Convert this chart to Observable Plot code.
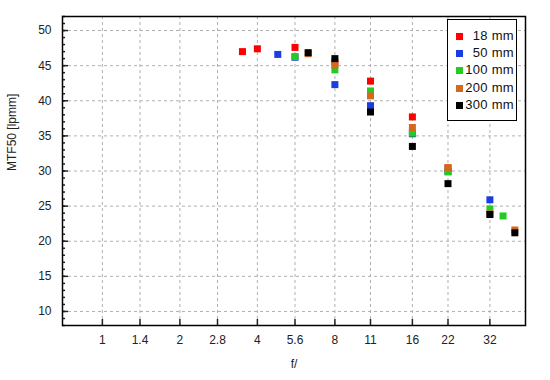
<!DOCTYPE html>
<html>
<head>
<meta charset="utf-8">
<script src="https://cdn.jsdelivr.net/npm/d3@7"></script>
<script src="https://cdn.jsdelivr.net/npm/@observablehq/plot@0.6"></script>
<style>
  body { margin: 0; background: #fff; }
  #wrap { position: relative; width: 550px; height: 380px; font-family: "Liberation Sans", Arial, sans-serif; }
  #legend { position: absolute; left: 447px; top: 19px; width: 70px; height: 102px; border: 1px solid #000; background: #fff; box-sizing: border-box; font-size: 13px; color: #111; }
  .item { position: absolute; left: 0; width: 66px; height: 16px; line-height: 16px; }
  .sw { position: absolute; left: 8px; top: 5px; width: 7px; height: 7px; }
  .lab { position: absolute; right: 0; top: 0; text-align: right; letter-spacing: 0.3px; }
</style>
</head>
<body>
<div id="wrap"><div id="legend"></div></div>
<script>
const seriesNames = ["18 mm", "50 mm", "100 mm", "200 mm", "300 mm"];
const seriesColors = ["#ff0000", "#1a3de0", "#22cc22", "#d2691e", "#000000"];

const f18 = [3.5, 4, 5.6, 8, 11, 16, 22];
const v18 = [47.0, 47.4, 47.6, 45.5, 42.8, 37.7, 30.4];
const f50 = [4.8, 5.6, 8, 11, 16, 22, 32];
const v50 = [46.6, 46.2, 42.3, 39.3, 35.3, 29.9, 25.9];
const f100 = [5.6, 8, 11, 16, 22, 32, 36];
const v100 = [46.3, 44.4, 41.4, 35.4, 29.9, 24.6, 23.6];
const f200 = [6.3, 8, 11, 16, 22, 32, 40];
const v200 = [46.7, 45.1, 40.7, 36.2, 30.5, 23.9, 21.6];
const f300 = [6.3, 8, 11, 16, 22, 32, 40];
const v300 = [46.85, 46.0, 38.4, 33.5, 28.2, 23.8, 21.2];

const xTicks = [1, 1.4, 2, 2.8, 4, 5.6, 8, 11, 16, 22, 32];
const xTickLabels = ["1", "1.4", "2", "2.8", "4", "5.6", "8", "11", "16", "22", "32"];
const yMajor = [10, 15, 20, 25, 30, 35, 40, 45, 50];
const yMinor = d3.range(8, 53, 1);

const fs = [f18, f50, f100, f200, f300];
const vs = [v18, v50, v100, v200, v300];
const data = [];
seriesNames.forEach((s, i) => fs[i].forEach((f, j) => data.push({series: s, f, v: vs[i][j]})));

const xTickData = xTicks.map((t, i) => ({t, label: xTickLabels[i]}));
const gridStyle = {stroke: "#b0b0b0", strokeOpacity: 1, strokeDasharray: "3,3", strokeWidth: 1};

const chart = Plot.plot({
  width: 550,
  height: 380,
  marginLeft: 62,
  marginRight: 25,
  marginTop: 16,
  marginBottom: 55,
  style: {fontFamily: "'Liberation Sans', Arial, sans-serif", fontSize: "12px", color: "#222", background: "#fff"},
  x: {type: "log", domain: [0.7, 44]},
  y: {domain: [8, 52]},
  color: {domain: seriesNames, range: seriesColors},
  marks: [
    Plot.gridX(xTicks, gridStyle),
    Plot.gridY(yMajor, gridStyle),
    Plot.axisX(xTicks, {tickSize: -6, tickFormat: () => "", label: null, strokeWidth: 1.5}),
    Plot.text(xTickData, {x: "t", text: "label", frameAnchor: "bottom", dy: 18, fontSize: 12, fill: "#222"}),
    Plot.axisY(yMajor, {tickSize: -6, tickFormat: () => "", label: null, strokeWidth: 1.5}),
    Plot.axisY(yMinor, {tickSize: -3, tickFormat: () => "", label: null, strokeWidth: 1.5}),
    Plot.axisY(yMajor, {tickSize: 0, tickPadding: 11, label: null, fontSize: 12}),
    Plot.dot(data, {x: "f", y: "v", fill: "series", symbol: "square", r: 3.95}),
    Plot.frame({stroke: "#000", strokeWidth: 1.5}),
    Plot.text(["f/"], {frameAnchor: "bottom", dy: 42, fontSize: 12, fill: "#222"}),
    Plot.text(["MTF50 [lpmm]"], {frameAnchor: "left", dx: -50, rotate: -90, fontSize: 12, fill: "#222"})
  ]
});
document.getElementById("wrap").prepend(chart);
chart.style.position = "absolute";
chart.style.left = "0";
chart.style.top = "0";

const legend = document.getElementById("legend");
legend.style.zIndex = 2;
seriesNames.forEach((s, i) => {
  const it = document.createElement("div");
  it.className = "item";
  it.style.top = (8 + i * 17.2) + "px";
  it.innerHTML = `<span class="sw" style="background:${seriesColors[i]}"></span><span class="lab">${s}</span>`;
  legend.appendChild(it);
});
</script>
</body>
</html>
